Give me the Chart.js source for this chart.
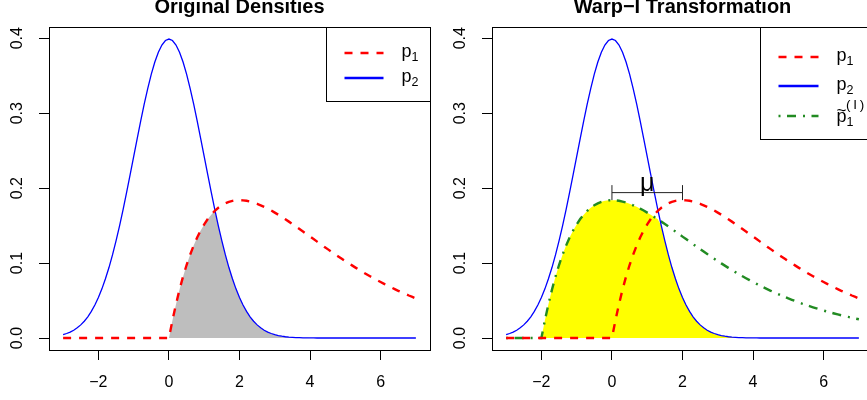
<!DOCTYPE html>
<html>
<head>
<meta charset="utf-8">
<script src="https://cdn.jsdelivr.net/npm/chart.js@4.4.1/dist/chart.umd.min.js"></script>
<style>
  html, body { margin: 0; padding: 0; background: #fff; width: 867px; height: 400px; overflow: hidden; }
  .panel { position: absolute; top: 0; width: 433px; height: 400px; }
  #panelLeft { left: 0; }
  #panelRight { left: 443px; }
</style>
</head>
<body>
<div class="panel" id="panelLeft"><canvas id="chartLeft" width="433" height="400"></canvas></div>
<div class="panel" id="panelRight"><canvas id="chartRight" width="433" height="400"></canvas></div>
<script>
// Evaluation grid for the density curves
const xs = [
  -3.0,-2.9,-2.8,-2.7,-2.6,-2.5,-2.4,-2.3,-2.2,-2.1,
  -2.0,-1.9,-1.8,-1.7,-1.6,-1.5,-1.4,-1.3,-1.2,-1.1,
  -1.0,-0.9,-0.8,-0.7,-0.6,-0.5,-0.4,-0.3,-0.2,-0.1,
  0.0,0.1,0.2,0.3,0.4,0.5,0.6,0.7,0.8,0.9,
  1.0,1.1,1.2,1.3,1.4,1.5,1.6,1.7,1.8,1.9,
  2.0,2.1,2.2,2.3,2.4,2.5,2.6,2.7,2.8,2.9,
  3.0,3.1,3.2,3.3,3.4,3.5,3.6,3.7,3.8,3.9,
  4.0,4.1,4.2,4.3,4.4,4.5,4.6,4.7,4.8,4.9,
  5.0,5.1,5.2,5.3,5.4,5.5,5.6,5.7,5.8,5.9,
  6.0,6.1,6.2,6.3,6.4,6.5,6.6,6.7,6.8,6.9,
  7.0
];

// p2: density centred at 0
const p2 = [
  0.0044,0.0060,0.0079,0.0104,0.0136,0.0175,0.0224,0.0283,0.0355,0.0440,
  0.0540,0.0656,0.0790,0.0940,0.1109,0.1295,0.1497,0.1714,0.1942,0.2179,
  0.2420,0.2661,0.2897,0.3123,0.3332,0.3521,0.3683,0.3814,0.3910,0.3970,
  0.3989,0.3970,0.3910,0.3814,0.3683,0.3521,0.3332,0.3123,0.2897,0.2661,
  0.2420,0.2179,0.1942,0.1714,0.1497,0.1295,0.1109,0.0940,0.0790,0.0656,
  0.0540,0.0440,0.0355,0.0283,0.0224,0.0175,0.0136,0.0104,0.0079,0.0060,
  0.0044,0.0033,0.0024,0.0017,0.0012,0.0009,0.0006,0.0004,0.0003,0.0002,
  0.0001,0.0001,0,0,0,0,0,0,0,0,
  0,0,0,0,0,0,0,0,0,0,
  0,0,0,0,0,0,0,0,0,0,
  0
];

// p1: skewed density supported on x >= 0
const p1 = [
  0,0,0,0,0,0,0,0,0,0,
  0,0,0,0,0,0,0,0,0,0,
  0,0,0,0,0,0,0,0,0,0,
  0,0.0238,0.0452,0.0646,0.0819,0.0974,0.1111,0.1233,0.1341,0.1435,
  0.1516,0.1587,0.1646,0.1697,0.1738,0.1771,0.1797,0.1817,0.1830,0.1837,
  0.1839,0.1837,0.1831,0.1821,0.1807,0.1791,0.1771,0.1750,0.1726,0.1701,
  0.1673,0.1645,0.1615,0.1584,0.1553,0.1521,0.1488,0.1454,0.1421,0.1387,
  0.1353,0.1320,0.1286,0.1252,0.1219,0.1186,0.1153,0.1121,0.1089,0.1057,
  0.1026,0.0996,0.0966,0.0936,0.0907,0.0879,0.0851,0.0824,0.0798,0.0772,
  0.0747,0.0722,0.0698,0.0675,0.0652,0.0630,0.0609,0.0588,0.0567,0.0548,
  0.0528
];

// p1 after the warp-I shift (moved left by mu)
const p1Warped = [
  0,0,0,0,0,0,0,0,0,0,
  0,0.0238,0.0452,0.0646,0.0819,0.0974,0.1111,0.1233,0.1341,0.1435,
  0.1516,0.1587,0.1646,0.1697,0.1738,0.1771,0.1797,0.1817,0.1830,0.1837,
  0.1839,0.1837,0.1831,0.1821,0.1807,0.1791,0.1771,0.1750,0.1726,0.1701,
  0.1673,0.1645,0.1615,0.1584,0.1553,0.1521,0.1488,0.1454,0.1421,0.1387,
  0.1353,0.1320,0.1286,0.1252,0.1219,0.1186,0.1153,0.1121,0.1089,0.1057,
  0.1026,0.0996,0.0966,0.0936,0.0907,0.0879,0.0851,0.0824,0.0798,0.0772,
  0.0747,0.0722,0.0698,0.0675,0.0652,0.0630,0.0609,0.0588,0.0567,0.0548,
  0.0528,0.0510,0.0492,0.0474,0.0457,0.0441,0.0425,0.0410,0.0395,0.0380,
  0.0366,0.0353,0.0340,0.0327,0.0315,0.0303,0.0292,0.0281,0.0270,0.0260,
  0.0250
];

const xTicks = [-2, 0, 2, 4, 6];
const yTicks = [0.0, 0.1, 0.2, 0.3, 0.4];
const xRange = [-3.4, 7.4];
const yRange = [-0.016, 0.415];
const panelTitles = ['Original Densities', 'Warp\u2212I Transformation'];

// shift bracket: from the warped mode to the original mode
const muSpan = [0, 2];
const muBarY = 0.194;
const muLabelY = 0.205;
const muLabel = '\u03bc';

const FONT = "'Liberation Sans', Arial, Helvetica, sans-serif";
const RED = '#FF0000', BLUE = '#0000FF', GREEN = '#228B22';

const pts = arr => xs.map((x, i) => ({ x: x, y: arr[i] }));
const overlap = (a, b) => a.map((v, i) => Math.min(v, b[i]));

function scales() {
  const grid = { display: true, drawOnChartArea: false, drawTicks: true, tickLength: 10, color: '#000', lineWidth: 1 };
  return {
    x: {
      type: 'linear', min: xRange[0], max: xRange[1],
      afterBuildTicks: s => { s.ticks = xTicks.map(v => ({ value: v })); },
      afterFit: s => { s.height = 50; },
      grid: grid, border: { display: false },
      ticks: {
        color: '#000', font: { family: FONT, size: 16 }, padding: 13,
        minRotation: 0, maxRotation: 0, autoSkip: false,
        callback: v => (v < 0 ? '\u2212' + Math.abs(v) : String(v))
      }
    },
    y: {
      type: 'linear', min: yRange[0], max: yRange[1],
      afterBuildTicks: s => { s.ticks = yTicks.map(v => ({ value: v })); },
      afterFit: s => { s.width = 49; },
      grid: grid, border: { display: false },
      ticks: {
        color: '#000', font: { family: FONT, size: 16 }, padding: 10.5,
        minRotation: 90, maxRotation: 90, crossAlign: 'center', autoSkip: false,
        callback: v => v.toFixed(1)
      }
    }
  };
}

// frame around the plotting region, title above it
const framePlugin = {
  id: 'frame',
  afterDraw(chart, args, opts) {
    const { ctx, chartArea: a } = chart;
    ctx.save();
    ctx.strokeStyle = '#000';
    ctx.lineWidth = 1;
    ctx.strokeRect(Math.round(a.left) + 0.5, Math.round(a.top) + 0.5,
                   Math.round(a.right - a.left), Math.round(a.bottom - a.top));
    ctx.fillStyle = '#000';
    ctx.font = 'bold 20px ' + FONT;
    ctx.textAlign = 'center';
    ctx.textBaseline = 'alphabetic';
    ctx.fillText(opts.title, (a.left + a.right) / 2, 12.5);
    ctx.restore();
  }
};

// boxed legend in the top-right corner
const boxLegendPlugin = {
  id: 'boxLegend',
  afterDraw(chart, args, opts) {
    const { ctx, chartArea: a } = chart;
    const left = Math.round(a.right - opts.width) + 0.5;
    const top = Math.round(a.top) + 0.5;
    ctx.save();
    ctx.fillStyle = '#fff';
    ctx.fillRect(left, top, opts.width, opts.height);
    ctx.strokeStyle = '#000';
    ctx.lineWidth = 1;
    ctx.strokeRect(left, top, opts.width, opts.height);
    opts.items.forEach((it, i) => {
      const ds = chart.data.datasets[it.dataset];
      const y = top + opts.rows[i];
      ctx.beginPath();
      ctx.setLineDash(ds.borderDash || []);
      ctx.lineCap = 'butt';
      ctx.strokeStyle = ds.borderColor;
      ctx.lineWidth = 2.5;
      ctx.moveTo(left + 18, y);
      ctx.lineTo(left + 18 + opts.sample, y);
      ctx.stroke();
      ctx.setLineDash([]);

      const tx = left + opts.textX;
      const base = y + opts.baseline[i];
      ctx.fillStyle = '#000';
      ctx.textAlign = 'left';
      ctx.textBaseline = 'alphabetic';
      ctx.font = '18px ' + FONT;
      ctx.fillText(it.base, tx, base);
      const w = ctx.measureText(it.base).width;
      if (it.tilde) {
        ctx.font = '17px ' + FONT;
        ctx.textAlign = 'center';
        ctx.fillText('~', tx + w / 2, base - 6.5);
        ctx.textAlign = 'left';
      }
      ctx.font = '12.5px ' + FONT;
      if (it.sub) ctx.fillText(it.sub, tx + w, base + 3.5);
      ctx.font = '13.5px ' + FONT;
      if (it.sup) ctx.fillText(it.sup, tx + w - 0.5, base - 13.5);
    });
    ctx.restore();
  }
};

// text label sitting on the shift bracket
const muLabelPlugin = {
  id: 'muLabel',
  afterDatasetsDraw(chart, args, opts) {
    if (!opts.text) return;
    const { ctx, scales: { x, y } } = chart;
    ctx.save();
    ctx.fillStyle = '#000';
    ctx.font = '25px ' + FONT;
    ctx.textAlign = 'center';
    ctx.textBaseline = 'middle';
    ctx.fillText(opts.text, x.getPixelForValue((muSpan[0] + muSpan[1]) / 2), y.getPixelForValue(muLabelY));
    ctx.restore();
  }
};

function curve(arr, color, width, dash) {
  return {
    data: pts(arr), borderColor: color, borderWidth: width, borderDash: dash || [],
    borderCapStyle: 'butt', pointRadius: 0, tension: 0, fill: false
  };
}

function areaUnder(arr, color) {
  return {
    data: pts(arr), borderColor: 'rgba(0,0,0,0)', borderWidth: 1, backgroundColor: color,
    pointRadius: 0, tension: 0, fill: 'origin'
  };
}

function baseOptions(extra) {
  return {
    responsive: false, animation: false, devicePixelRatio: 1,
    layout: { autoPadding: false, padding: { left: 0, top: 27, right: 3, bottom: 0 } },
    scales: scales(),
    plugins: Object.assign({ legend: { display: false }, tooltip: { enabled: false } }, extra)
  };
}

new Chart(document.getElementById('chartLeft'), {
  type: 'line',
  data: {
    datasets: [
      curve(p1, RED, 2.4, [8, 8]),
      curve(p2, BLUE, 1.3),
      areaUnder(overlap(p1, p2), '#BEBEBE')
    ]
  },
  options: baseOptions({
    frame: { title: panelTitles[0] },
    boxLegend: {
      width: 104, height: 74, sample: 39, textX: 75,
      rows: [25.5, 50.5], baseline: [4, 4],
      items: [
        { dataset: 0, base: 'p', sub: '1' },
        { dataset: 1, base: 'p', sub: '2' }
      ]
    },
    muLabel: { text: null }
  }),
  plugins: [framePlugin, boxLegendPlugin, muLabelPlugin]
});

new Chart(document.getElementById('chartRight'), {
  type: 'line',
  data: {
    datasets: [
      {
        data: [{ x: muSpan[0], y: muBarY }, { x: muSpan[1], y: muBarY }],
        borderColor: '#222', borderWidth: 1, tension: 0, fill: false,
        pointStyle: 'line', pointRadius: 7.5, pointRotation: 90,
        pointBorderColor: '#222', pointBorderWidth: 1, pointHoverRadius: 7.5
      },
      curve(p1, RED, 2.4, [8, 8]),
      curve(p2, BLUE, 1.3),
      curve(p1Warped, GREEN, 2.4, [2, 6.5, 9, 7]),
      areaUnder(overlap(p1Warped, p2), '#FFFF00')
    ]
  },
  options: baseOptions({
    frame: { title: panelTitles[1] },
    boxLegend: {
      width: 113, height: 112, sample: 40, textX: 76,
      rows: [29.5, 58.5, 88.5], baseline: [4, 4, 6],
      items: [
        { dataset: 1, base: 'p', sub: '1' },
        { dataset: 2, base: 'p', sub: '2' },
        { dataset: 3, base: 'p', sub: '1', sup: '(\u2009I\u2009)', tilde: true }
      ]
    },
    muLabel: { text: muLabel }
  }),
  plugins: [framePlugin, boxLegendPlugin, muLabelPlugin]
});
</script>
</body>
</html>
